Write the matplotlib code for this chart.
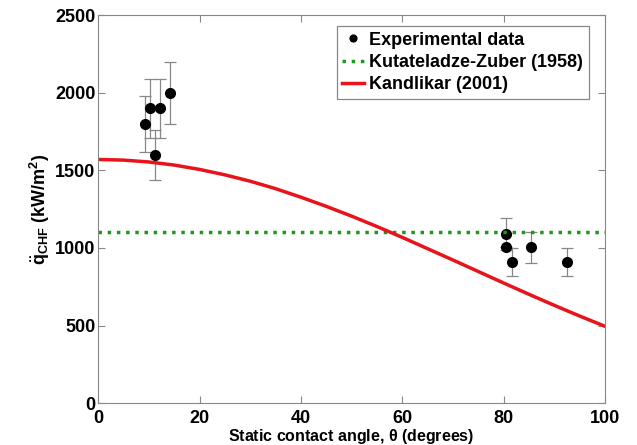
import matplotlib.pyplot as plt
import numpy as np

plt.rcParams["font.family"] = ["Liberation Sans", "DejaVu Sans"]
plt.rcParams["font.weight"] = "bold"
plt.rcParams["mathtext.fontset"] = "custom"
plt.rcParams["mathtext.rm"] = "Liberation Sans:bold"
plt.rcParams["mathtext.bf"] = "Liberation Sans:bold"
plt.rcParams["mathtext.it"] = "Liberation Sans:bold"

# experimental points
exp_angle = [9.3, 10.3, 11.2, 12.2, 14.2, 80.5, 80.5, 81.7, 85.4, 92.5]
exp_chf = [1800, 1900, 1600, 1900, 2000, 1090, 1006, 910, 1006, 910]
exp_err = [180, 190, 160, 190, 200, 100, 0, 90, 100, 90]

# Kutateladze-Zuber constant
kz_chf = 1100

# Kandlikar (2001) curve
kand_angle = [0, 5, 10, 15, 20, 25, 30, 35, 40, 45, 50,
              55, 60, 65, 70, 75, 80, 85, 90, 95, 100]
kand_chf = [1570, 1566, 1554, 1534, 1506, 1471, 1430, 1382, 1327, 1268, 1205,
            1138, 1068, 995, 922, 848, 774, 701, 630, 561, 495]

fig = plt.figure(figsize=(6.37, 4.45), dpi=100)
ax = fig.add_axes([0.154, 0.094, 0.796, 0.872])

ax.errorbar(exp_angle, exp_chf, yerr=exp_err, fmt="none",
            ecolor="#888888", elinewidth=0.9, capsize=4, capthick=0.9)
ax.plot(exp_angle, exp_chf, "o", color="black", markersize=7,
        label="Experimental data")
ax.plot([0, 100], [kz_chf, kz_chf], ":", color="#1a9a1a", linewidth=2.5,
        label="Kutateladze-Zuber (1958)")
ax.plot(kand_angle, kand_chf, "-", color="#e8141b", linewidth=2.5,
        label="Kandlikar (2001)")

ax.set_xlim(0, 100)
ax.set_ylim(0, 2500)
ax.set_xticks(np.arange(0, 101, 20))
ax.set_yticks(np.arange(0, 2501, 500))
ax.tick_params(direction="in", top=True, right=True, labelsize=13,
               color="#888888", length=5)
ax.tick_params(axis="y", pad=2)
ax.tick_params(axis="x", pad=5)
for s in ax.spines.values():
    s.set_color("#888888")

ax.set_xlabel(r"Static contact angle, $\theta$ (degrees)", fontsize=11.5,
              fontweight="bold", labelpad=0)
ax.set_ylabel(r"$\ddot{q}_{CHF}$ (kW/m$^2$)", fontsize=13,
              fontweight="bold", labelpad=2)

leg = ax.legend(loc="upper right", fontsize=13, handlelength=1.2,
                handletextpad=0.3, borderpad=0.3, labelspacing=0.3,
                markerscale=0.7, fancybox=False, framealpha=1,
                edgecolor="#888888", bbox_to_anchor=(0.985, 0.995))
leg.get_frame().set_linewidth(0.9)

fig.savefig("out.png", dpi=100)
